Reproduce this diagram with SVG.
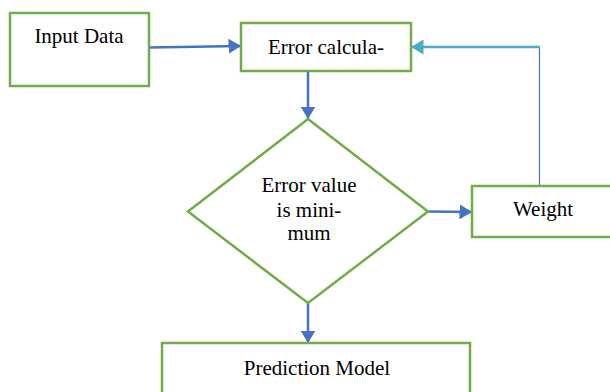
<svg xmlns="http://www.w3.org/2000/svg" width="610" height="392" viewBox="0 0 610 392">
  <style>
    .box { fill: #ffffff; stroke: #70AD47; stroke-width: 2.5; }
    .lbl { font-size: 21px; fill: #000000; text-anchor: middle; }
    .flow { fill: none; stroke: #4472C4; stroke-width: 2.5; }
    .back { fill: none; stroke: #4BACC6; stroke-width: 2.5; }
    .thin { fill: none; stroke: #4472C4; stroke-width: 1.2; }
  </style>
  <defs>
    <marker id="headBlue" viewBox="0 0 10 12" refX="10" refY="6" markerWidth="5" markerHeight="6" markerUnits="strokeWidth" orient="auto">
      <path d="M0,0 L10,6 L0,12 Z" fill="#4472C4"/>
    </marker>
    <marker id="headCyan" viewBox="0 0 10 12" refX="10" refY="6" markerWidth="5" markerHeight="6" markerUnits="strokeWidth" orient="auto">
      <path d="M0,0 L10,6 L0,12 Z" fill="#4BACC6"/>
    </marker>
  </defs>

  <g id="connectors">
    <path class="flow" d="M149,47.5 L241,46" marker-end="url(#headBlue)"/>
    <path class="flow" d="M308,71 L308,119" marker-end="url(#headBlue)"/>
    <path class="flow" d="M428,211.5 L472,212" marker-end="url(#headBlue)"/>
    <path class="flow" d="M308,303 L308,343" marker-end="url(#headBlue)"/>
    <path class="thin" d="M539.5,186 L539.5,47"/>
    <path class="back" d="M540,47 L411,47" marker-end="url(#headCyan)"/>
  </g>

  <g font-family="Liberation Serif, Times New Roman, DejaVu Serif, serif">
    <g id="input-data">
      <rect class="box" x="10" y="13" width="139" height="73"/>
      <text class="lbl" x="79" y="43">Input Data</text>
    </g>

    <g id="error-calculation">
      <rect class="box" x="241" y="23" width="170" height="48"/>
      <text class="lbl" x="326" y="53.5">Error calcula-</text>
    </g>

    <g id="error-minimum">
      <polygon class="box" points="308,119 428,211.5 308,303 188,211.5"/>
      <text class="lbl" x="309" y="191.5">Error value</text>
      <text class="lbl" x="309" y="216.5">is mini-</text>
      <text class="lbl" x="309" y="240">mum</text>
    </g>

    <g id="weight">
      <rect class="box" x="472" y="186" width="140" height="51"/>
      <text class="lbl" x="543" y="215.5">Weight</text>
    </g>

    <g id="prediction-model">
      <rect class="box" x="162" y="343" width="308" height="60"/>
      <text class="lbl" x="317" y="375">Prediction Model</text>
    </g>
  </g>
</svg>
